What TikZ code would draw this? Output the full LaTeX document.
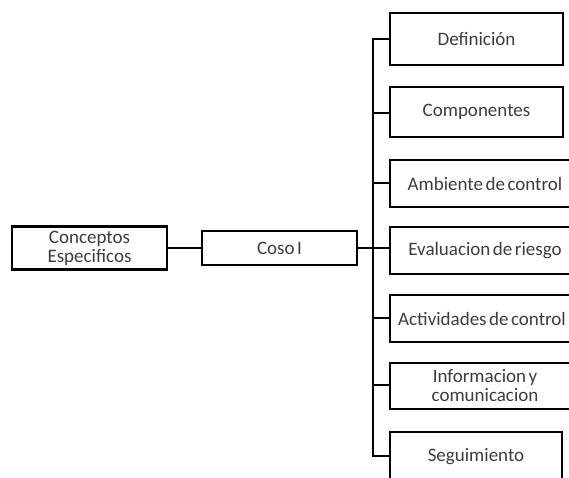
\documentclass[tikz,border=0pt]{standalone}
\usepackage{fontspec}
\setmainfont{Carlito}
\definecolor{txt}{HTML}{3C3C3C}
\newcommand\myboxfont{\fontsize{19}{19}\selectfont\spaceskip=2.5pt plus 1pt minus 0.5pt\relax}
\tikzset{
  box/.style={draw=black, line width=2.3, rectangle, inner sep=0, align=center,
    text=txt, font=\myboxfont},
  conn/.style={draw=black, line width=2.3}
}
\begin{document}
\begin{tikzpicture}[x=1pt,y=-1pt]
\useasboundingbox (0,0) rectangle (569,477);
\clip (0,0) rectangle (569,477);
% left boxes
\node[box, minimum width=155, minimum height=43] (ce) at (89.5,248) {Conceptos\\Especificos};
\node[box, minimum width=155, minimum height=34] (coso) at (279.5,248) {Coso I};
% right boxes
\node[box, minimum width=173, minimum height=52] (def) at (476.5,39) {Definición};
\node[box, minimum width=173, minimum height=50] (comp) at (476.5,112) {Componentes};
\node[box, minimum width=190, minimum height=47] (amb) at (485,183.5) {Ambiente de control};
\node[box, minimum width=190, minimum height=47] (eva) at (485,250.5) {Evaluacion de riesgo};
\node[box, minimum width=190, minimum height=47] (act) at (485,318.5) {};
\node[text=txt, font=\myboxfont, inner sep=0] (actt) at (482,318.5) {Actividades de control};
\node[box, minimum width=190, minimum height=46] (inf) at (485,386) {Informacion y\\comunicacion};
\node[box, minimum width=172, minimum height=50] (seg) at (476,457) {Seguimiento};
% trunk coordinates
\coordinate (t1) at (373,39);
\coordinate (t2) at (373,113);
\coordinate (t3) at (373,183);
\coordinate (tc) at (373,248);
\coordinate (t5) at (373,318);
\coordinate (t6) at (373,385);
\coordinate (t7) at (373,456);
% connectors
\draw[conn] (ce.east) -- (coso.west);
\draw[conn] (coso.east) -- (tc);
\draw[conn, line cap=rect] (t1) -- (t7);
\draw[conn] (t1) -- (def.west |- t1);
\draw[conn] (t2) -- (comp.west |- t2);
\draw[conn] (t3) -- (amb.west |- t3);
\draw[conn] (tc) -- (eva.west |- tc);
\draw[conn] (t5) -- (act.west |- t5);
\draw[conn] (t6) -- (inf.west |- t6);
\draw[conn] (t7) -- (seg.west |- t7);
\end{tikzpicture}
\end{document}
